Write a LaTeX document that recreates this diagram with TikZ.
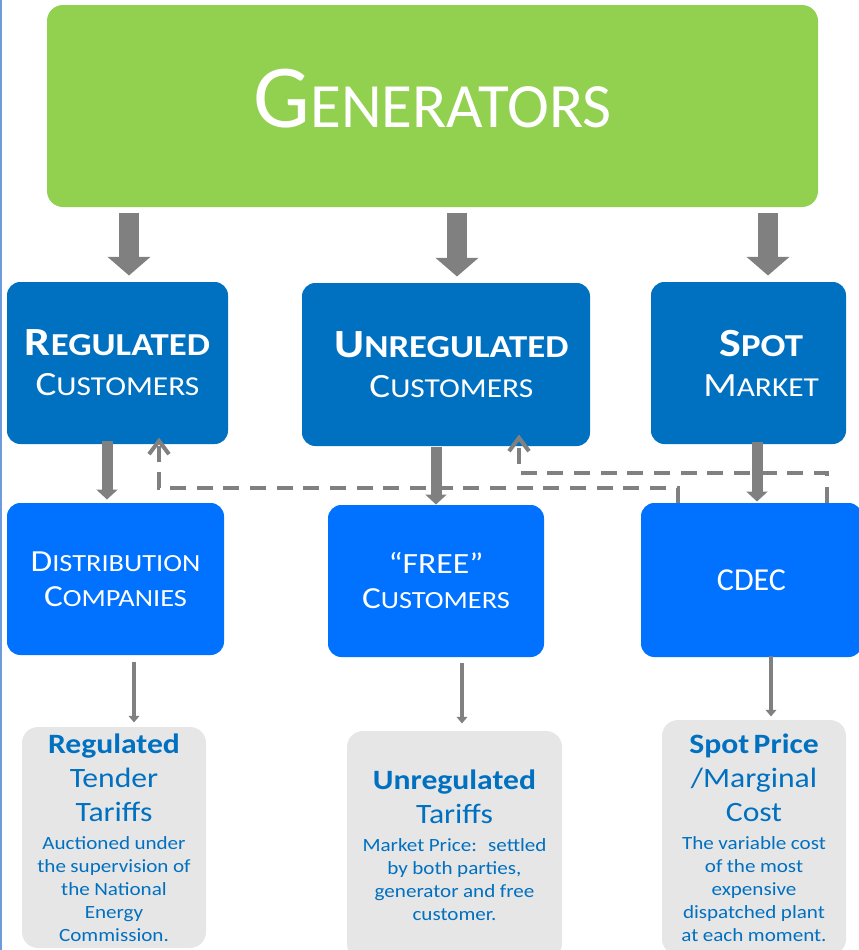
\documentclass[tikz,border=0pt]{standalone}
\usepackage{fontspec}
\setmainfont{Carlito}
\newfontfamily\widefont{Carlito}[FakeStretch=1.15]
\newfontfamily\tarifffont{Carlito}[FakeStretch=1.13]
\usetikzlibrary{arrows.meta}

\definecolor{genGreen}{RGB}{146,208,80}
\definecolor{custBlue}{RGB}{0,112,192}
\definecolor{agentBlue}{RGB}{0,114,255}
\definecolor{tariffGray}{RGB}{231,230,230}
\definecolor{arrowGray}{RGB}{128,128,128}
\definecolor{edgeBlue}{RGB}{110,155,220}

% fake small caps: big first part, smaller rest
\newcommand{\fsc}[4]{{\fontsize{#1}{#1}\selectfont #3}{\fontsize{#2}{#2}\selectfont #4}}

\tikzset{every picture/.style={line width=0.75pt}}
\tikzset{
  genbox/.style={rectangle, rounded corners=12pt, fill=genGreen, text=white, inner sep=0pt},
  custbox/.style={rectangle, rounded corners=10pt, fill=custBlue, text=white, inner sep=0pt, align=center, font=\widefont\fontsize{25}{30}\selectfont},
  agentbox/.style={rectangle, rounded corners=10pt, fill=agentBlue, text=white, inner sep=0pt, align=center, font=\widefont\fontsize{23}{26.25}\selectfont},
  tariffbox/.style={rectangle, rounded corners=12pt, fill=tariffGray, text=custBlue, inner sep=0pt, align=center, font=\tarifffont},
  bigarrow/.style={draw=arrowGray, line width=15pt, -{Triangle[width=31.5pt,length=14pt]}},
  midarrow/.style={draw=arrowGray, line width=8.25pt, -{Triangle[width=15.75pt,length=7.5pt]}},
  thinarrow/.style={draw=arrowGray, line width=3pt, -{Triangle[width=8pt,length=5pt]}},
  feedback/.style={draw=arrowGray, line width=3pt, dash pattern=on 12pt off 8pt, -{Straight Barb[length=10pt,width=15pt]}}
}

\begin{document}
\begin{tikzpicture}[x=0.75pt,y=0.75pt,yscale=-1,xscale=1]
	\useasboundingbox (0,0) rectangle (858,950);

	%Straight Lines [left frame]
	\draw [edgeBlue, line width=1.5pt] (1,0) -- (1,950) ;

	%Shape: Rounded Rectangle [generators]
	\node [genbox, minimum width=578.25pt, minimum height=151.5pt, text height=44pt, text depth=12.5pt] (gen) at (432.5,106) {\fsc{67.5}{47.3}{G}{ENERATORS}};

	%Shape: Rounded Rectangle [customers row]
	\node [custbox, minimum width=165.75pt, minimum height=121.5pt] (reg) at (117.5,363) {\fsc{30}{24}{\bfseries R}{\bfseries EGULATED}\\\fsc{25.5}{20.5}{C}{USTOMERS}};
	\node [custbox, minimum width=216pt, minimum height=122.25pt] (unreg) at (446,364.5) {\hspace*{8pt}\fsc{30}{24}{\bfseries U}{\bfseries NREGULATED}\\\hspace*{8pt}\fsc{25.5}{20.5}{C}{USTOMERS}};
	\node [custbox, minimum width=146.25pt, minimum height=121.5pt] (spot) at (748.5,363) {\hspace*{19pt}\fsc{30}{24}{\bfseries S}{\bfseries POT}\\\hspace*{19pt}\fsc{25.5}{20.5}{M}{ARKET}};

	%Shape: Rounded Rectangle [agents row]
	\node [agentbox, minimum width=162.75pt, minimum height=114pt] (dist) at (115.5,579) {\fsc{23}{18.5}{D}{ISTRIBUTION}\\\fsc{23}{18.5}{C}{OMPANIES}};
	\node [agentbox, minimum width=162pt, minimum height=114pt] (free) at (436,581) {\fsc{22}{22}{“FREE”}{}\\\fsc{23}{18.5}{C}{USTOMERS}};
	\node [agentbox, minimum width=165.75pt, minimum height=115.5pt] (cdec) at (751.5,580) {\rmfamily\fsc{24}{24}{CDEC}{}};

	%Shape: Rounded Rectangle [tariffs row]
	\node [tariffbox, minimum width=138pt, minimum height=165.75pt, text width=134pt] (tl) at (114,837.5) {{\fontsize{21}{25.5}\selectfont\textbf{Regulated}\\Tender\\Tariffs\par}\vskip4pt{\fontsize{14}{17.25}\selectfont Auctioned under\\the supervision of\\the National\\Energy\\Commission.\par}};
	\node [tariffbox, minimum width=161.25pt, minimum height=171.75pt, text width=158pt] (tm) at (454.5,845.5) {{\fontsize{21}{25.5}\selectfont\textbf{Unregulated}\\Tariffs\par}\vskip4pt{\fontsize{14}{17.25}\selectfont Market Price:~ settled\\by both parties,\\generator and free\\customer.\par}};
	\node [tariffbox, minimum width=138pt, minimum height=176.25pt, text width=134pt] (tr) at (754,837.5) {{\fontsize{21}{25.5}\selectfont\textbf{Spot Price}\\/Marginal\\Cost\par}\vskip4pt{\fontsize{14}{17.25}\selectfont The variable cost\\of the most\\expensive\\dispatched plant\\at each moment.\par}};

	%Straight Lines [dashed feedback]
	\coordinate (loopA) at (159,488);
	\coordinate (loopB) at (519,473);
	\draw [feedback, shorten >=-5.25pt] (cdec.north -| 678,0) |- (loopA) -- (reg.south -| loopA) ;
	\draw [feedback, shorten >=-9pt] (cdec.north -| 827,0) |- (loopB) -- (unreg.south -| loopB) ;

	%Straight Lines [generators to customers]
	\draw [bigarrow, shorten <=3.75pt, shorten >=4.5pt] (gen.south -| 129,0) -- (reg.north -| 129,0) ;
	\draw [bigarrow, shorten <=3.75pt, shorten >=4.5pt] (gen.south -| 457,0) -- (unreg.north -| 457,0) ;
	\draw [bigarrow, shorten <=3.75pt, shorten >=4.5pt] (gen.south -| 768,0) -- (spot.north -| 768,0) ;

	%Straight Lines [customers to agents]
	\draw [midarrow, shorten <=-3pt, shorten >=2.25pt] (reg.south -| 107,0) -- (dist.north -| 107,0) ;
	\draw [midarrow] (unreg.south -| 436,0) -- (free.north -| 436,0) ;
	\draw [midarrow, shorten <=-2.25pt, shorten >=0.75pt] (spot.south -| 757,0) -- (cdec.north -| 757,0) ;

	%Straight Lines [agents to tariffs]
	\draw [thinarrow, shorten <=4.5pt, shorten >=3pt] (dist.south -| 134,0) -- (tl.north -| 134,0) ;
	\draw [thinarrow, shorten <=3.75pt, shorten >=5.25pt] (free.south -| 462,0) -- (tm.north -| 462,0) ;
	\draw [thinarrow, shorten <=-1.5pt, shorten >=2.25pt] (cdec.south -| 771,0) -- (tr.north -| 771,0) ;

\end{tikzpicture}
\end{document}
